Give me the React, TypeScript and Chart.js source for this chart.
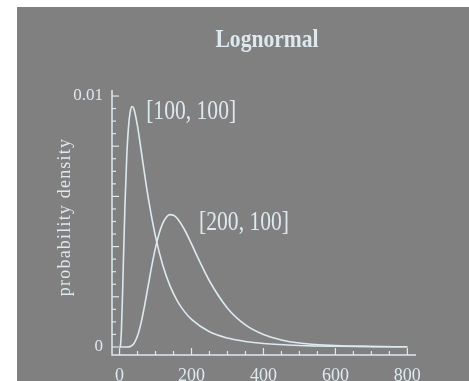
import React, { useEffect, useRef } from "react";
import { Chart, registerables } from "chart.js";

Chart.register(...registerables);

// Series: lognormal densities
const xs1 = [0, 2, 5, 7.5, 10, 15, 20, 25, 30, 35, 40, 50, 60, 70, 80, 100, 120, 140, 160, 180, 200, 250, 300, 350, 400, 500, 600, 700, 800];
const density1 = [0, 0.000025, 0.000607, 0.001692, 0.003034, 0.005638, 0.007582, 0.008788, 0.009398, 0.009582, 0.009479, 0.008788, 0.007832, 0.006845, 0.005924, 0.004394, 0.003263, 0.002445, 0.001851, 0.001418, 0.001099, 0.000607, 0.000354, 0.000216, 0.000137, 0.0000607, 0.0000295, 0.0000155, 0.0000086];

const xs2 = [0, 20, 30, 40, 50, 60, 70, 80, 90, 100, 110, 120, 130, 140, 150, 160, 180, 200, 220, 250, 300, 350, 400, 450, 500, 600, 700, 800];
const density2 = [0, 0, 0.000022, 0.000139, 0.000443, 0.000971, 0.001679, 0.002474, 0.00326, 0.003959, 0.00452, 0.004925, 0.00517, 0.005273, 0.005252, 0.005133, 0.004691, 0.004106, 0.003488, 0.002628, 0.001546, 0.000879, 0.000495, 0.000279, 0.000158, 0.0000529, 0.0000186, 0.0000069];

const seriesLabels = ["[100, 100]", "[200, 100]"];
const labelAnchorsX = [74, 221];
const labelAnchorsY = [0.00907, 0.00466];

const xTickLabels = [0, 200, 400, 600, 800];
const xMinorTicks = [50, 100, 150, 250, 300, 350, 450, 500, 550, 650, 700, 750];
const yTickLabels = [0, 0.01];
const yTickTexts = ["0", "0.01"];
const yMajorTicks = [0, 0.002, 0.004, 0.006, 0.008, 0.01];
const yMinorTicks = [0.0005, 0.001, 0.0015, 0.0025, 0.003, 0.0035, 0.0045, 0.005, 0.0055, 0.0065, 0.007, 0.0075, 0.0085, 0.009, 0.0095];

const titleText = "Lognormal";
const yAxisTitle = "probability density";

const FG = "#dce9ef";
const BG = "#808080";
const SERIF = '"Liberation Serif", "Times New Roman", serif';

const decorPlugin = {
  id: "decor",
  afterDatasetsDraw(chart: any) {
    const ctx = chart.ctx;
    const xs = chart.scales.x;
    const ys = chart.scales.y;
    const area = chart.chartArea;
    ctx.save();
    ctx.strokeStyle = FG;
    ctx.fillStyle = FG;
    ctx.lineWidth = 1.5;
    // axis lines
    ctx.beginPath();
    ctx.moveTo(area.left, area.top);
    ctx.lineTo(area.left, area.bottom);
    ctx.lineTo(area.right, area.bottom);
    ctx.stroke();
    ctx.lineWidth = 1.2;
    // x ticks (inward)
    const xt = (v: number, len: number) => {
      const p = xs.getPixelForValue(v);
      ctx.beginPath();
      ctx.moveTo(p, area.bottom);
      ctx.lineTo(p, area.bottom - len);
      ctx.stroke();
    };
    xTickLabels.forEach((v) => xt(v, 7));
    xMinorTicks.forEach((v) => xt(v, 4));
    const yt = (v: number, len: number) => {
      const p = ys.getPixelForValue(v);
      ctx.beginPath();
      ctx.moveTo(area.left, p);
      ctx.lineTo(area.left + len, p);
      ctx.stroke();
    };
    yMajorTicks.forEach((v) => yt(v, 7));
    yMinorTicks.forEach((v) => yt(v, 4));

    // title
    ctx.font = "bold 26px " + SERIF;
    ctx.textBaseline = "alphabetic";
    ctx.save();
    ctx.translate(250, 40);
    ctx.scale(0.83, 1);
    ctx.textAlign = "center";
    ctx.fillText(titleText, 0, 0);
    ctx.restore();

    // series annotations
    ctx.font = "27px " + SERIF;
    seriesLabels.forEach((t, i) => {
      ctx.save();
      ctx.translate(xs.getPixelForValue(labelAnchorsX[i]), ys.getPixelForValue(labelAnchorsY[i]));
      ctx.scale(0.8, 1);
      ctx.textAlign = "left";
      ctx.fillText(t, 0, 0);
      ctx.restore();
    });

    // y axis title
    ctx.font = "18px " + SERIF;
    ctx.save();
    ctx.translate(52.5, 210);
    ctx.rotate(-Math.PI / 2);
    ctx.textAlign = "center";
    try {
      (ctx as any).letterSpacing = "1.2px";
    } catch (e) {}
    ctx.fillText(yAxisTitle, 0, 0);
    ctx.restore();
    ctx.restore();
  },
};

export default function App() {
  const ref = useRef<HTMLCanvasElement>(null);
  useEffect(() => {
    const canvas = ref.current!;
    const chart = new Chart(canvas, {
      type: "line",
      data: {
        datasets: [
          {
            data: xs1.map((x, i) => ({ x, y: density1[i] })),
            borderColor: FG,
            borderWidth: 1.6,
            pointRadius: 0,
            cubicInterpolationMode: "monotone",
            fill: false,
          },
          {
            data: xs2.map((x, i) => ({ x, y: density2[i] })),
            borderColor: FG,
            borderWidth: 1.6,
            pointRadius: 0,
            cubicInterpolationMode: "monotone",
            fill: false,
          },
        ],
      },
      options: {
        animation: false,
        responsive: false,
        devicePixelRatio: 1,
        layout: { padding: { left: 55, right: 53, top: 83, bottom: 0 } },
        plugins: { legend: { display: false }, tooltip: { enabled: false }, title: { display: false } },
        scales: {
          x: {
            type: "linear",
            min: -21,
            max: 824,
            grid: { display: false, drawTicks: false },
            border: { display: false },
            afterBuildTicks: (s: any) => {
              s.ticks = xTickLabels.map((v) => ({ value: v }));
            },
            afterFit: (s: any) => {
              s.height = 26;
            },
            ticks: {
              autoSkip: false,
              maxRotation: 0,
              padding: 10,
              color: FG,
              font: { family: SERIF, size: 18 },
              callback: (v: any) => String(v),
            },
          },
          y: {
            type: "linear",
            min: -0.00032,
            max: 0.01024,
            grid: { display: false, drawTicks: false },
            border: { display: false },
            afterBuildTicks: (s: any) => {
              s.ticks = yTickLabels.map((v) => ({ value: v }));
            },
            afterFit: (s: any) => {
              s.width = 40;
            },
            ticks: {
              autoSkip: false,
              padding: 9,
              color: FG,
              font: { family: SERIF, size: 17 },
              callback: (v: any) => {
                const i = yTickLabels.indexOf(v);
                return i >= 0 ? yTickTexts[i] : "";
              },
            },
          },
        },
      },
      plugins: [decorPlugin],
    } as any);
    return () => chart.destroy();
  }, []);
  return (
    <div style={{ position: "fixed", left: 0, top: 0, width: 469, height: 381, background: "#ffffff" }}>
      <div style={{ position: "absolute", left: 17, top: 7, width: 452, height: 374, background: BG }}>
        <canvas ref={ref} width={452} height={374} style={{ display: "block" }} />
      </div>
    </div>
  );
}
